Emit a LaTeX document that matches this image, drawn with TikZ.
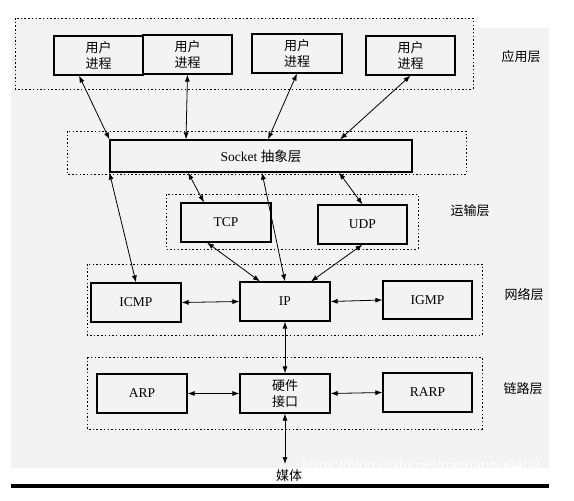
\documentclass[tikz,border=0pt]{standalone}
\usepackage{fontspec}
\setmainfont{Liberation Serif}
\newfontfamily\cjk{Noto Sans CJK SC}
\newfontfamily\wmfont{Liberation Sans}
\usetikzlibrary{arrows.meta,calc}
\definecolor{bg}{HTML}{F3F3F3}
\begin{document}
\begin{tikzpicture}[x=1pt,y=-1pt,
  box/.style={draw,line width=1.1pt,minimum width=89pt,minimum height=39pt,inner sep=0pt,align=center,font=\fontsize{13.5}{16}\selectfont},
  cjkbox/.style={box,font=\cjk\fontsize{13}{16.5}\selectfont},
  zone/.style={draw,line width=0.9pt,dash pattern=on 1.5pt off 2.2pt},
  layer/.style={font=\cjk\fontsize{13}{16}\selectfont},
  link/.style={line width=0.8pt,{Latex[length=7pt,width=5pt]}-{Latex[length=7pt,width=5pt]}}]
\useasboundingbox (0,0) rectangle (574,501);
% background
\fill[bg] (11,28) rectangle (549,468);
\fill[black] (11,484) rectangle (549,488);
% zones
\draw[zone,fill=bg] (15,18) rectangle (473,89);
\draw[zone] (67,131) rectangle (466,174);
\draw[zone] (166,194) rectangle (418,249);
\draw[zone] (87,264) rectangle (482,335);
\draw[zone] (87,357) rectangle (482,429);
% layer labels
\node[layer] (lapp) at (521,57) {应用层};
\node[layer] (ltrans) at (470,211) {运输层};
\node[layer] (lnet) at (524,295) {网络层};
\node[layer] (llink) at (523,389) {链路层};
% application
\node[cjkbox] (app1) at (98.5,55.5) {用户\\进程};
\node[cjkbox] (app2) at (187.5,54.5) {用户\\进程};
\node[cjkbox,minimum width=90pt] (app3) at (297,53.5) {用户\\进程};
\node[cjkbox] (app4) at (410.5,55.5) {用户\\进程};
% socket
\node[box,minimum width=302pt,minimum height=32pt] (sock) at (261,156) {Socket {\cjk 抽象层}};
% transport
\node[box,minimum width=90pt] (tcp) at (226,222.5) {TCP};
\node[box] (udp) at (362.5,224.5) {UDP};
% network
\node[box,minimum width=90pt] (icmp) at (136,302.5) {ICMP};
\node[box,minimum width=90pt] (ip) at (285,301.5) {IP};
\node[box,minimum height=38pt] (igmp) at (427.5,300) {IGMP};
% link
\node[box,minimum width=90pt] (arp) at (142,393.5) {ARP};
\node[cjkbox,minimum width=90pt] (hw) at (285,393.5) {硬件\\接口};
\node[box] (rarp) at (427.5,392.5) {RARP};
% watermark and media
\node[font=\wmfont\fontsize{15}{15}\selectfont,text=white,anchor=east,inner sep=0pt] (wm) at (540,467) {https://blog.csdn.net/pashanhu6402};
\node[font=\cjk\fontsize{13}{13}\selectfont,inner sep=0pt] (media) at (289,476) {媒体};
\coordinate (mediatip) at (285,464);
% connectors
\draw[link] ([xshift=-19.5pt]app1.south) -- (sock.north west);
\draw[link] (app2.south) -- ([xshift=-75pt]sock.north);
\draw[link] (app3.south) -- ([xshift=7pt]sock.north);
\draw[link] (app4.south) -- ([xshift=79pt]sock.north);
\draw[link] ([xshift=-73pt]sock.south) -- ([xshift=-22pt]tcp.north);
\draw[link] ([xshift=78pt]sock.south) -- (udp.north);
\draw[link] (sock.south west) -- (icmp.north);
\draw[link] ([xshift=1pt]sock.south) -- (ip.north);
\draw[link] ([xshift=-19pt]tcp.south) -- ([xshift=-25pt]ip.north);
\draw[link] (udp.south) -- ([xshift=26pt]ip.north);
\draw[link] (icmp.east) -- (ip.west);
\draw[link] (ip.east) -- (igmp.west);
\draw[link] (ip.south) -- (hw.north);
\draw[link] (arp.east) -- (hw.west);
\draw[link] (hw.east) -- (rarp.west);
\draw[link] (hw.south) -- (mediatip);
\end{tikzpicture}
\end{document}
